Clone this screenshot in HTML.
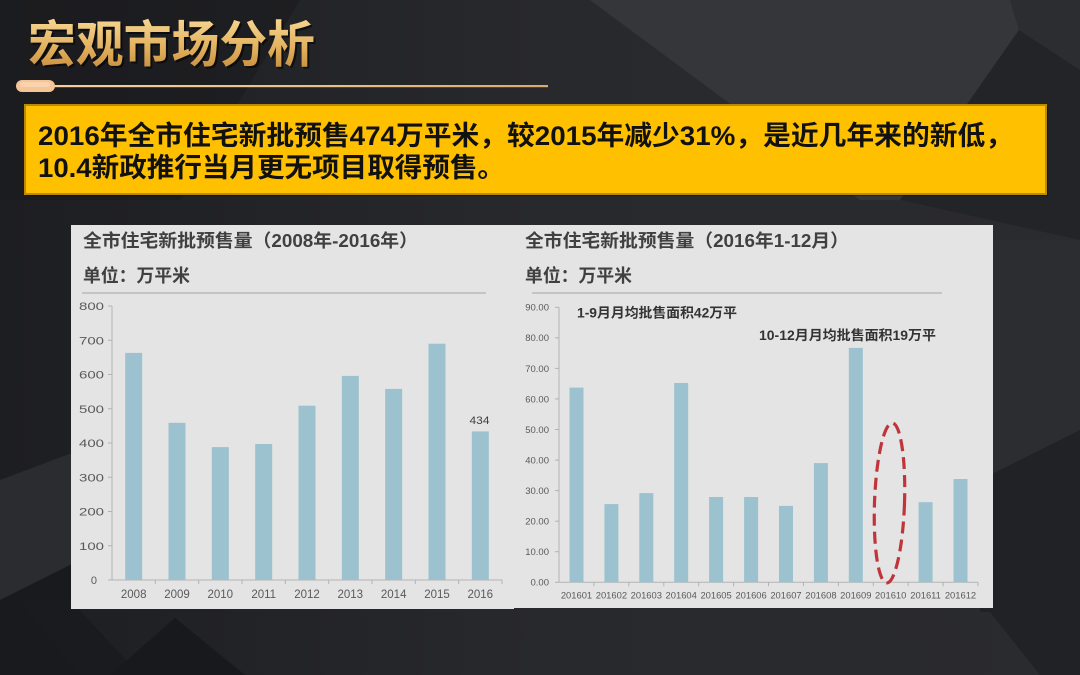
<!DOCTYPE html>
<html><head><meta charset="utf-8"><style>
html,body{margin:0;padding:0;background:#26272b;}
svg{display:block;}
text{font-family:"Liberation Sans","Noto Sans CJK SC",sans-serif;}
</style></head><body>
<svg width="1080" height="675" viewBox="0 0 1080 675" xmlns="http://www.w3.org/2000/svg">
<defs>
<linearGradient id="bg" x1="0" y1="0" x2="1" y2="0">
<stop offset="0" stop-color="#1d1e21"/><stop offset="0.5" stop-color="#28292d"/><stop offset="1" stop-color="#2a2b2f"/>
</linearGradient>
<linearGradient id="gold" x1="0" y1="0" x2="0" y2="1">
<stop offset="0" stop-color="#f7d894"/><stop offset="0.55" stop-color="#e2b15e"/><stop offset="1" stop-color="#c48a3a"/>
</linearGradient>
<linearGradient id="gline" x1="0" y1="0" x2="1" y2="0">
<stop offset="0" stop-color="#f6cfa0"/><stop offset="0.6" stop-color="#e9bd86"/><stop offset="1" stop-color="#d9aa70"/>
</linearGradient>
</defs>
<rect width="1080" height="675" fill="url(#bg)"/>
<!-- background facets -->
<polygon points="590,0 1010,0 1019,30 900,200 860,200" fill="#35363a"/>
<polygon points="1019,30 1080,70 1080,240 900,200" fill="#232427"/>
<polygon points="1010,0 1080,0 1080,70 1019,30" fill="#2c2d31"/>
<polygon points="0,0 300,0 180,200 0,200" fill="#1a1b1e" opacity="0.6"/>
<polygon points="980,240 1080,240 1080,430 980,480" fill="#2c2d31"/>
<polygon points="980,480 1080,430 1080,675 1040,675 990,612 980,612" fill="#212225"/>
<polygon points="0,480 80,450 80,560 0,600" fill="#2b2c30"/>
<polygon points="0,600 80,560 80,675 0,675" fill="#191a1d"/>
<polygon points="20,600 80,675 140,675 70,600" fill="#1a1b1e"/>
<polygon points="175,618 110,675 245,675" fill="#18191c"/>

<!-- main title -->
<text x="30" y="64" font-size="50" font-weight="bold" fill="#000" opacity="0.55" textLength="287" lengthAdjust="spacingAndGlyphs">宏观市场分析</text>
<text x="28" y="62" font-size="50" font-weight="bold" fill="url(#gold)" textLength="287" lengthAdjust="spacingAndGlyphs">宏观市场分析</text>
<rect x="52" y="85" width="496" height="2.2" fill="url(#gline)"/>
<rect x="16" y="80" width="39" height="12" rx="6" fill="#f5c598"/>
<rect x="20" y="82" width="30" height="5" rx="2.5" fill="#fbd9b6" opacity="0.7"/>

<!-- yellow box -->
<rect x="27" y="107" width="1021" height="89" fill="#000" opacity="0.35"/>
<rect x="25" y="105" width="1021" height="89" fill="#ffc000" stroke="#b88c0a" stroke-width="2"/>
<text x="38" y="145" font-size="27" font-weight="bold" fill="#111" textLength="975" lengthAdjust="spacingAndGlyphs">2016年全市住宅新批预售474万平米，较2015年减少31%，是近几年来的新低，</text>
<text x="38" y="177" font-size="27" font-weight="bold" fill="#111" textLength="467" lengthAdjust="spacingAndGlyphs">10.4新政推行当月更无项目取得预售。</text>

<!-- panels -->
<rect x="71" y="225" width="443" height="384" fill="#e4e4e4"/>
<rect x="513" y="225" width="480" height="383" fill="#e4e4e4"/>

<!-- LEFT CHART -->
<text x="83" y="247" font-size="18" font-weight="bold" fill="#404040" textLength="335" lengthAdjust="spacingAndGlyphs">全市住宅新批预售量（2008年-2016年）</text>
<text x="83" y="282" font-size="18" font-weight="bold" fill="#404040" textLength="107" lengthAdjust="spacingAndGlyphs">单位：万平米</text>
<line x1="82" y1="293" x2="486" y2="293" stroke="#a3a3a3" stroke-width="1"/>
<g stroke="#b3b3b3" stroke-width="1">
<line x1="112" y1="306" x2="112" y2="580"/>
<line x1="112" y1="580" x2="502" y2="580"/>
<line x1="108" y1="306" x2="112" y2="306"/>
<line x1="108" y1="340.25" x2="112" y2="340.25"/>
<line x1="108" y1="374.5" x2="112" y2="374.5"/>
<line x1="108" y1="408.75" x2="112" y2="408.75"/>
<line x1="108" y1="443" x2="112" y2="443"/>
<line x1="108" y1="477.25" x2="112" y2="477.25"/>
<line x1="108" y1="511.5" x2="112" y2="511.5"/>
<line x1="108" y1="545.75" x2="112" y2="545.75"/>
<line x1="108" y1="580" x2="112" y2="580"/>
<line x1="155.3" y1="580" x2="155.3" y2="584"/>
<line x1="198.7" y1="580" x2="198.7" y2="584"/>
<line x1="242" y1="580" x2="242" y2="584"/>
<line x1="285.3" y1="580" x2="285.3" y2="584"/>
<line x1="328.7" y1="580" x2="328.7" y2="584"/>
<line x1="372" y1="580" x2="372" y2="584"/>
<line x1="415.3" y1="580" x2="415.3" y2="584"/>
<line x1="458.7" y1="580" x2="458.7" y2="584"/>
<line x1="502" y1="580" x2="502" y2="584"/>
</g>
<g font-size="11" fill="#595959" text-anchor="end">
<text x="104" y="310" textLength="25" lengthAdjust="spacingAndGlyphs">800</text>
<text x="104" y="344.25" textLength="25" lengthAdjust="spacingAndGlyphs">700</text>
<text x="104" y="378.5" textLength="25" lengthAdjust="spacingAndGlyphs">600</text>
<text x="104" y="412.75" textLength="25" lengthAdjust="spacingAndGlyphs">500</text>
<text x="104" y="447" textLength="25" lengthAdjust="spacingAndGlyphs">400</text>
<text x="104" y="481.25" textLength="25" lengthAdjust="spacingAndGlyphs">300</text>
<text x="104" y="515.5" textLength="25" lengthAdjust="spacingAndGlyphs">200</text>
<text x="104" y="549.75" textLength="25" lengthAdjust="spacingAndGlyphs">100</text>
<text x="97" y="584">0</text>
</g>
<g fill="#9bc2ce">
<rect x="125.2" y="352.9" width="17" height="227.1"/>
<rect x="168.5" y="422.8" width="17" height="157.2"/>
<rect x="211.8" y="447.1" width="17" height="132.9"/>
<rect x="255.2" y="444.0" width="17" height="136.0"/>
<rect x="298.5" y="405.7" width="17" height="174.3"/>
<rect x="341.8" y="375.9" width="17" height="204.1"/>
<rect x="385.2" y="388.9" width="17" height="191.1"/>
<rect x="428.5" y="343.7" width="17" height="236.3"/>
<rect x="471.8" y="431.4" width="17" height="148.6"/>
</g>
<text x="479.5" y="424" font-size="11" fill="#404040" text-anchor="middle" textLength="20" lengthAdjust="spacingAndGlyphs">434</text>
<g font-size="11.5" fill="#595959" text-anchor="middle">
<text x="133.7" y="598">2008</text>
<text x="177.0" y="598">2009</text>
<text x="220.3" y="598">2010</text>
<text x="263.7" y="598">2011</text>
<text x="307.0" y="598">2012</text>
<text x="350.3" y="598">2013</text>
<text x="393.7" y="598">2014</text>
<text x="437.0" y="598">2015</text>
<text x="480.3" y="598">2016</text>
</g>

<!-- RIGHT CHART -->
<text x="525" y="247" font-size="18" font-weight="bold" fill="#404040" textLength="324" lengthAdjust="spacingAndGlyphs">全市住宅新批预售量（2016年1-12月）</text>
<text x="525" y="282" font-size="18" font-weight="bold" fill="#404040" textLength="107" lengthAdjust="spacingAndGlyphs">单位：万平米</text>
<line x1="532" y1="293" x2="942" y2="293" stroke="#a3a3a3" stroke-width="1"/>
<g stroke="#b3b3b3" stroke-width="1">
<line x1="559" y1="307.3" x2="559" y2="582.3"/>
<line x1="559" y1="582.3" x2="978" y2="582.3"/>
<line x1="555" y1="307.3" x2="559" y2="307.3"/>
<line x1="555" y1="337.8" x2="559" y2="337.8"/>
<line x1="555" y1="368.4" x2="559" y2="368.4"/>
<line x1="555" y1="398.9" x2="559" y2="398.9"/>
<line x1="555" y1="429.5" x2="559" y2="429.5"/>
<line x1="555" y1="460.1" x2="559" y2="460.1"/>
<line x1="555" y1="490.6" x2="559" y2="490.6"/>
<line x1="555" y1="521.2" x2="559" y2="521.2"/>
<line x1="555" y1="551.7" x2="559" y2="551.7"/>
<line x1="555" y1="582.3" x2="559" y2="582.3"/>
<line x1="593.9" y1="582.3" x2="593.9" y2="586.3"/>
<line x1="628.8" y1="582.3" x2="628.8" y2="586.3"/>
<line x1="663.8" y1="582.3" x2="663.8" y2="586.3"/>
<line x1="698.7" y1="582.3" x2="698.7" y2="586.3"/>
<line x1="733.6" y1="582.3" x2="733.6" y2="586.3"/>
<line x1="768.5" y1="582.3" x2="768.5" y2="586.3"/>
<line x1="803.4" y1="582.3" x2="803.4" y2="586.3"/>
<line x1="838.4" y1="582.3" x2="838.4" y2="586.3"/>
<line x1="873.3" y1="582.3" x2="873.3" y2="586.3"/>
<line x1="908.2" y1="582.3" x2="908.2" y2="586.3"/>
<line x1="943.1" y1="582.3" x2="943.1" y2="586.3"/>
<line x1="978" y1="582.3" x2="978" y2="586.3"/>
</g>
<g font-size="9.5" fill="#595959" text-anchor="end">
<text x="549" y="310.7">90.00</text>
<text x="549" y="341.2">80.00</text>
<text x="549" y="371.8">70.00</text>
<text x="549" y="402.3">60.00</text>
<text x="549" y="432.9">50.00</text>
<text x="549" y="463.5">40.00</text>
<text x="549" y="494.0">30.00</text>
<text x="549" y="524.6">20.00</text>
<text x="549" y="555.1">10.00</text>
<text x="549" y="585.7">0.00</text>
</g>
<g fill="#9bc2ce">
<rect x="569.5" y="387.6" width="14" height="194.7"/>
<rect x="604.4" y="504.1" width="14" height="78.2"/>
<rect x="639.3" y="493.1" width="14" height="89.2"/>
<rect x="674.2" y="383.0" width="14" height="199.3"/>
<rect x="709.1" y="497.0" width="14" height="85.3"/>
<rect x="744.1" y="497.0" width="14" height="85.3"/>
<rect x="779.0" y="505.9" width="14" height="76.4"/>
<rect x="813.9" y="463.1" width="14" height="119.2"/>
<rect x="848.8" y="347.9" width="14" height="234.4"/>
<rect x="918.6" y="502.2" width="14" height="80.1"/>
<rect x="953.5" y="479.0" width="14" height="103.3"/>
</g>
<g font-size="9.4" fill="#595959" text-anchor="middle">
<text x="576.5" y="598.5">201601</text>
<text x="611.4" y="598.5">201602</text>
<text x="646.3" y="598.5">201603</text>
<text x="681.2" y="598.5">201604</text>
<text x="716.1" y="598.5">201605</text>
<text x="751.1" y="598.5">201606</text>
<text x="786.0" y="598.5">201607</text>
<text x="820.9" y="598.5">201608</text>
<text x="855.8" y="598.5">201609</text>
<text x="890.7" y="598.5">201610</text>
<text x="925.6" y="598.5">201611</text>
<text x="960.5" y="598.5">201612</text>
</g>
<text x="577" y="317.5" font-size="13.5" font-weight="bold" fill="#333" textLength="160" lengthAdjust="spacingAndGlyphs">1-9月月均批售面积42万平</text>
<text x="759" y="340" font-size="13.5" font-weight="bold" fill="#333" textLength="177" lengthAdjust="spacingAndGlyphs">10-12月月均批售面积19万平</text>
<ellipse cx="889.5" cy="503" rx="15" ry="80" transform="rotate(2 889.5 503)" fill="none" stroke="#c0353a" stroke-width="3.2" stroke-dasharray="12 6"/>
</svg>
</body></html>
